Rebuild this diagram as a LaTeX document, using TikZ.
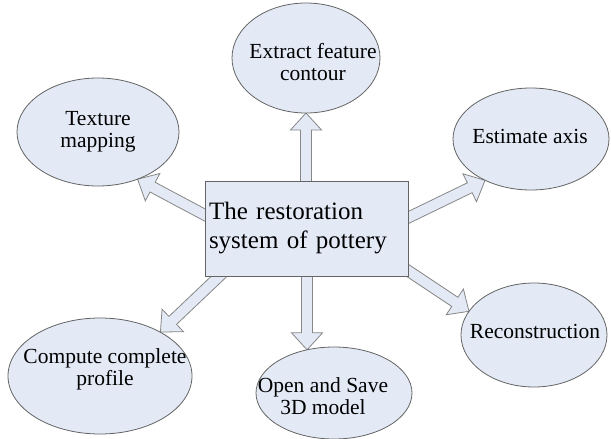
\documentclass[tikz,border=0pt]{standalone}
\usepackage{fontspec}
\setmainfont{Liberation Serif}
\usetikzlibrary{shapes.geometric,calc}
\definecolor{paleblue}{RGB}{227,234,246}
\definecolor{rim}{RGB}{100,100,100}
\definecolor{arrowrim}{RGB}{135,135,135}
\pgfdeclarelayer{paper}
\pgfdeclarelayer{bg}
\pgfsetlayers{paper,bg,main}

\tikzset{
  bubble/.style={ellipse, draw=rim, fill=paleblue, line width=0.8pt,
    inner sep=0pt, outer sep=0pt},
  bubbletext/.style={align=center, inner sep=0pt,
    font=\fontsize{21.5}{22}\selectfont},
  hub/.style={rectangle, draw=rim, fill=paleblue, line width=0.8pt,
    minimum width=203pt, minimum height=95pt, text width=195pt,
    align=left, inner xsep=4pt, inner ysep=0pt, outer sep=0pt,
    font=\fontsize{25}{29}\selectfont},
  barrow/.style={draw=arrowrim, fill=paleblue, line width=0.8pt,
    line join=miter}
}

% hollow block arrow from #1 to #2 (shaft 11pt, head 31pt wide, 17pt long)
\newcommand\blockarrow[2]{%
  \path let \p1=(#1), \p2=(#2) in \pgfextra{%
    \pgfmathsetmacro\baang{atan2(\y2-\y1,\x2-\x1)}%
    \pgfmathsetmacro\balen{veclen(\x2-\x1,\y2-\y1)}%
    \xdef\baang{\baang}\xdef\balen{\balen}%
    \xdef\bax{\x1}\xdef\bay{\y1}};
  \begin{scope}[shift={(\bax,\bay)}, rotate=\baang, x=1pt, y=1pt]
    \draw[barrow] (0,-5.5) -- ({\balen-17},-5.5) -- ({\balen-17},-15.5)
      -- (\balen,0) -- ({\balen-17},15.5) -- ({\balen-17},5.5)
      -- (0,5.5) -- cycle;
  \end{scope}}

\begin{document}
\begin{tikzpicture}[x=1pt,y=-1pt]
  \begin{pgfonlayer}{paper}
    \fill[white] (0,0) rectangle (611,439);
  \end{pgfonlayer}
  \useasboundingbox (0,0) rectangle (611,439);

  % central box
  \node[hub] (c) at (306.5,228.5) {The restoration\\system of pottery};

  % surrounding tasks
  \node[bubble, minimum width=162pt, minimum height=108pt] (tex) at (98,132) {};
  \node[bubble, minimum width=148pt, minimum height=110pt] (ext) at (306,58) {};
  \node[bubble, minimum width=156pt, minimum height=102pt] (est) at (531,139) {};
  \node[bubble, minimum width=184pt, minimum height=116pt] (cmp) at (100,376) {};
  \node[bubble, minimum width=156pt, minimum height=92pt] (opn) at (334,393) {};
  \node[bubble, minimum width=146pt, minimum height=104pt] (rec) at (534,335) {};

  \node[bubbletext] at ($(tex.center)+(0,0)$) {Texture\\mapping};
  \node[bubbletext] at ($(ext.center)+(7,4)$) {Extract feature\\contour};
  \node[bubbletext] at ($(est.center)+(-1,-3)$) {Estimate axis};
  \node[bubbletext] at ($(cmp.center)+(5,-7)$) {Compute complete\\profile};
  \node[bubbletext] at ($(opn.center)+(-11,3)$) {Open and Save\\3D model};
  \node[bubbletext] at ($(rec.center)+(1,-4)$) {Reconstruction};

  % arrow tails, hidden under the central box
  \coordinate (sTex) at (218,222);
  \coordinate (sEst) at (395,224);
  \coordinate (sCmp) at (230,266);
  \coordinate (sRec) at (395,262);
  \coordinate (sExt) at (ext.south |- c.center);
  \coordinate (sOpn) at (opn.122 |- c.center);

  \begin{pgfonlayer}{bg}
    \blockarrow{sExt}{ext.south}
    \blockarrow{sOpn}{opn.122}
    \blockarrow{sTex}{tex.-50}
    \blockarrow{sEst}{est.-138}
    \blockarrow{sCmp}{cmp.36}
    \blockarrow{sRec}{rec.160}
  \end{pgfonlayer}
\end{tikzpicture}
\end{document}
